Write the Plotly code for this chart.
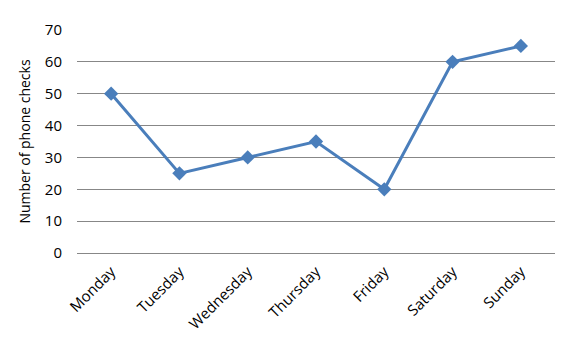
import plotly.graph_objects as go

days = ["Monday", "Tuesday", "Wednesday", "Thursday", "Friday", "Saturday", "Sunday"]
checks = [50, 25, 30, 35, 20, 60, 65]
y_ticks = [0, 10, 20, 30, 40, 50, 60, 70]

fig = go.Figure(go.Scatter(
    x=days, y=checks, mode="lines+markers",
    line=dict(color="#4A7EBB", width=3),
    marker=dict(symbol="diamond", size=11, color="#4A7EBB"),
))

fig.update_layout(
    width=580, height=352,
    margin=dict(l=77, r=25, t=29.5, b=99),
    paper_bgcolor="white", plot_bgcolor="white",
    showlegend=False,
    font=dict(family="Open Sans, Liberation Sans, sans-serif", size=13, color="black"),
)
fig.update_xaxes(
    type="category", tickangle=-45, showgrid=False, showline=False, zeroline=False,
    ticks="", tickfont=dict(size=15), range=[-0.5, 6.5], ticklabelstandoff=6,
)
fig.update_yaxes(
    range=[0, 70], tickvals=y_ticks, showgrid=True, gridcolor="#878787", gridwidth=1,
    zeroline=True, zerolinecolor="#878787", zerolinewidth=1,
    showline=False, ticks="", ticklabelstandoff=14,
    title=dict(text="Number of phone checks", font=dict(size=14), standoff=10),
    tickfont=dict(size=15),
)

fig.write_html("out.html")
